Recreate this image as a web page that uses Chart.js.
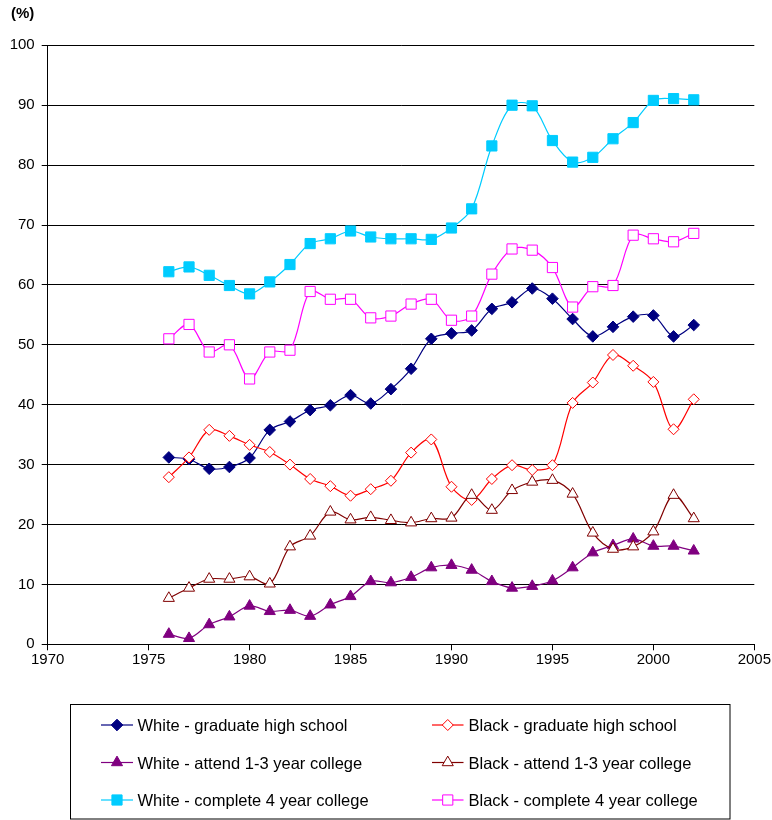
<!DOCTYPE html>
<html>
<head>
<meta charset="utf-8">
<script src="https://cdn.jsdelivr.net/npm/chart.js@4/dist/chart.umd.min.js"></script>
<style>
  html, body { margin: 0; padding: 0; background: #fff; }
  canvas { display: block; }
</style>
</head>
<body>
<canvas id="c" width="772" height="820"></canvas>
<script>
// Survey years
const years = [1976, 1977, 1978, 1979, 1980, 1981, 1982, 1983, 1984, 1985, 1986, 1987, 1988, 1989,
               1990, 1991, 1992, 1993, 1994, 1995, 1996, 1997, 1998, 1999, 2000, 2001, 2002];

// Percentages by group
const whiteHighSchool = [31.2, 30.9, 29.3, 29.6, 31.1, 35.8, 37.2, 39.1, 39.9, 41.6, 40.2, 42.6, 46.0, 51.0,
                         51.9, 52.4, 56.0, 57.1, 59.4, 57.7, 54.3, 51.4, 53.0, 54.7, 54.9, 51.4, 53.3];
const blackHighSchool = [27.9, 31.2, 35.8, 34.8, 33.3, 32.1, 30.0, 27.6, 26.4, 24.8, 25.9, 27.3, 32.0, 34.2,
                         26.3, 24.1, 27.6, 29.9, 29.1, 29.9, 40.3, 43.7, 48.3, 46.5, 43.8, 35.9, 40.9];
const whiteCollege13 = [1.7, 1.0, 3.3, 4.6, 6.4, 5.5, 5.7, 4.7, 6.6, 8.0, 10.5, 10.3, 11.2, 12.8,
                        13.2, 12.4, 10.5, 9.4, 9.7, 10.6, 12.8, 15.3, 16.5, 17.6, 16.4, 16.4, 15.6];
const blackCollege13 = [7.7, 9.4, 10.9, 10.9, 11.3, 10.1, 16.3, 18.1, 22.1, 20.8, 21.2, 20.7, 20.3, 21.0,
                        21.1, 24.9, 22.4, 25.7, 27.1, 27.4, 25.1, 18.6, 15.9, 16.3, 18.8, 24.9, 21.0];
const whiteCollege4 = [62.2, 63.0, 61.6, 59.9, 58.5, 60.5, 63.4, 66.9, 67.7, 69.0, 68.0, 67.7, 67.7, 67.6,
                       69.5, 72.7, 83.2, 90.0, 89.9, 84.1, 80.5, 81.3, 84.4, 87.1, 90.8, 91.1, 90.9];
const blackCollege4 = [51.0, 53.4, 48.8, 50.0, 44.3, 48.8, 49.1, 58.9, 57.6, 57.6, 54.5, 54.8, 56.8, 57.6,
                       54.1, 54.8, 61.8, 66.0, 65.8, 62.9, 56.3, 59.7, 59.9, 68.3, 67.7, 67.2, 68.6];

// Axis tick labels
const xTicks = [1970, 1975, 1980, 1985, 1990, 1995, 2000, 2005];
const yTicks = [0, 10, 20, 30, 40, 50, 60, 70, 80, 90, 100];

// Series names
const seriesNames = [
  'White - graduate high school',
  'Black - graduate high school',
  'White - attend 1-3 year college',
  'Black - attend 1-3 year college',
  'White - complete 4 year college',
  'Black - complete 4 year college'
];

const FONT = '"Liberation Sans", Arial, sans-serif';

function series(label, values, color, style, radius, filled, idx) {
  return {
    label: label,
    data: years.map((yr, i) => ({ x: yr, y: values[i] })),
    borderColor: color,
    backgroundColor: color,
    borderWidth: 1.2,
    tension: 0.33,
    pointStyle: style,
    pointRadius: radius,
    pointHoverRadius: radius,
    pointBorderWidth: 1,
    pointBorderColor: color,
    pointBackgroundColor: filled ? color : '#ffffff',
    fill: false,
    order: -idx
  };
}

const datasets = [
  series(seriesNames[0], whiteHighSchool, '#000080', 'rectRot', 5.8, true, 0),
  series(seriesNames[1], blackHighSchool, '#ff0000', 'rectRot', 5.5, false, 1),
  series(seriesNames[2], whiteCollege13, '#800080', 'triangle', 6.4, true, 2),
  series(seriesNames[3], blackCollege13, '#800000', 'triangle', 6.4, false, 3),
  series(seriesNames[4], whiteCollege4, '#00ccff', 'rect', 7.2, true, 4),
  series(seriesNames[5], blackCollege4, '#ff00ff', 'rect', 7.2, false, 5)
];

// Unit label and the boxed two-column key
const extras = {
  id: 'extras',
  beforeDraw(chart) {
    const ctx = chart.ctx;
    ctx.save();
    ctx.fillStyle = '#ffffff';
    ctx.fillRect(0, 0, chart.width, chart.height);
    ctx.restore();
  },
  afterDraw(chart) {
    const ctx = chart.ctx;
    ctx.save();
    ctx.fillStyle = '#000';
    ctx.font = 'bold 15px ' + FONT;
    ctx.textAlign = 'left';
    ctx.textBaseline = 'middle';
    ctx.fillText('(%)', 11, 14);

    // key frame
    ctx.strokeStyle = '#000';
    ctx.lineWidth = 1;
    ctx.strokeRect(70.5, 704.5, 659.5, 114.5);

    const lineStart = [101, 432];
    const lineEnd = [133, 463.5];
    const textX = [137.5, 468.5];
    const rowY = [725, 762.5, 800];
    chart.data.datasets.forEach((ds, i) => {
      const col = i % 2, row = Math.floor(i / 2);
      const y = rowY[row];
      ctx.strokeStyle = ds.borderColor;
      ctx.lineWidth = ds.borderWidth;
      ctx.beginPath();
      ctx.moveTo(lineStart[col], y);
      ctx.lineTo(lineEnd[col], y);
      ctx.stroke();

      const mx = (lineStart[col] + lineEnd[col]) / 2;
      ctx.fillStyle = ds.pointBackgroundColor;
      ctx.strokeStyle = ds.pointBorderColor;
      ctx.lineWidth = ds.pointBorderWidth;
      Chart.helpers.drawPoint(ctx, {
        pointStyle: ds.pointStyle,
        radius: ds.pointRadius,
        rotation: 0,
        borderWidth: ds.pointBorderWidth
      }, mx, y);

      ctx.fillStyle = '#000';
      ctx.font = '16.5px ' + FONT;
      ctx.textAlign = 'left';
      ctx.textBaseline = 'alphabetic';
      ctx.fillText(ds.label, textX[col], y + 6);
    });
    ctx.restore();
  }
};

new Chart(document.getElementById('c'), {
  type: 'line',
  data: { datasets: datasets },
  plugins: [extras],
  options: {
    responsive: false,
    devicePixelRatio: 1,
    animation: false,
    events: [],
    layout: { padding: { left: 0, top: 45.3, right: 16.3, bottom: 145.7 } },
    plugins: {
      legend: { display: false },
      tooltip: { enabled: false },
      title: { display: false }
    },
    scales: {
      x: {
        type: 'linear',
        min: 1970,
        max: 2005,
        afterBuildTicks: s => { s.ticks = xTicks.map(v => ({ value: v })); },
        afterFit: s => { s.height = 30; },
        ticks: {
          color: '#000',
          font: { family: FONT, size: 15 },
          padding: 1,
          maxRotation: 0,
          autoSkip: false,
          callback: v => String(v)
        },
        grid: { drawOnChartArea: false, drawTicks: true, tickLength: 6, color: '#000', lineWidth: 1 },
        border: { display: true, color: '#000', width: 1 }
      },
      y: {
        min: 0,
        max: 100,
        afterBuildTicks: s => { s.ticks = yTicks.map(v => ({ value: v })); },
        afterFit: s => { s.width = 47.7; },
        ticks: {
          color: '#000',
          font: { family: FONT, size: 15 },
          padding: 7,
          autoSkip: false,
          callback: v => String(v)
        },
        grid: { color: '#000', lineWidth: 1, tickLength: 6, drawTicks: true },
        border: { display: true, color: '#000', width: 1 }
      }
    }
  }
});
</script>
</body>
</html>
